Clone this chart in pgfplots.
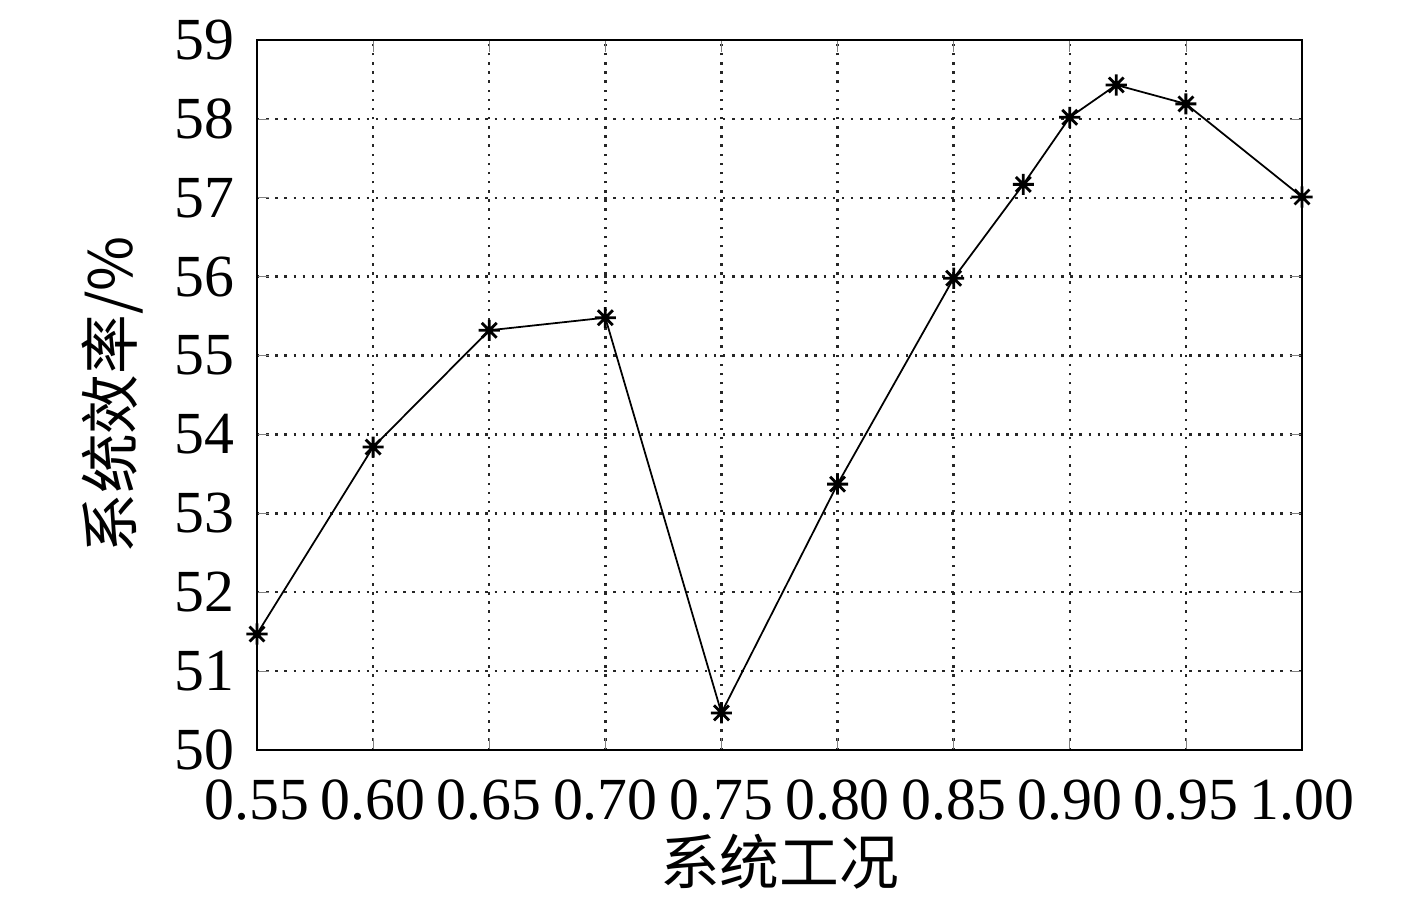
\documentclass[border=0pt]{standalone}
\usepackage{pgfplots}
\pgfplotsset{compat=1.18}
\usepackage{fontspec}
\setmainfont{Liberation Serif}
\newfontfamily\cjk{Noto Sans CJK SC}

% eight-armed asterisk, as in the source chart
\pgfdeclareplotmark{star8}{%
  \pgfpathmoveto{\pgfqpoint{-\pgfplotmarksize}{0pt}}%
  \pgfpathlineto{\pgfqpoint{\pgfplotmarksize}{0pt}}%
  \pgfpathmoveto{\pgfqpoint{0pt}{-\pgfplotmarksize}}%
  \pgfpathlineto{\pgfqpoint{0pt}{\pgfplotmarksize}}%
  \pgfpathmoveto{\pgfqpoint{-.707\pgfplotmarksize}{-.707\pgfplotmarksize}}%
  \pgfpathlineto{\pgfqpoint{.707\pgfplotmarksize}{.707\pgfplotmarksize}}%
  \pgfpathmoveto{\pgfqpoint{-.707\pgfplotmarksize}{.707\pgfplotmarksize}}%
  \pgfpathlineto{\pgfqpoint{.707\pgfplotmarksize}{-.707\pgfplotmarksize}}%
  \pgfusepathqstroke}

\begin{document}
\begin{tikzpicture}
  \begin{axis}[
    scale only axis,
    width=10.45cm,
    height=7.1cm,
    xmin=0.55,xmax=1.00,
    ymin=50,ymax=59,
    xtick={0.55,0.60,...,1.00},
    ytick={50,51,...,59},
    xticklabel style={yshift=-5pt,/pgf/number format/.cd,fixed,fixed zerofill,precision=2},
    yticklabel style={xshift=-3pt},
    /pgf/number format/assume math mode=true,
    tick label style={font=\fontsize{17}{19}\selectfont},
    label style={font=\fontsize{17}{19}\selectfont\cjk},
    xlabel={系统工况},
    ylabel={系统效率/\%},
    xlabel style={yshift=3pt},
    ylabel style={yshift=2pt},
    grid=major,
    major grid style={black!85,dash pattern=on 0.7pt off 1.9pt,line width=0.7pt},
    tick align=inside,
    major tick length=0.12cm,
    axis line style={line width=0.6pt},
    clip=false]

    % efficiency against operating point
    \addplot[black,line width=0.5pt,mark=star8,mark size=3pt,
      mark options={line width=0.8pt}] coordinates {
      (0.55,51.47) (0.60,53.84) (0.65,55.32) (0.70,55.48)
      (0.75,50.47) (0.80,53.37) (0.85,55.98) (0.88,57.17)
      (0.90,58.02) (0.92,58.43) (0.95,58.19) (1.00,57.01)};
  \end{axis}
  \path (current axis.south west) ++(-2.57cm,-1.48cm) coordinate (bl);
  \path (current axis.south west) ++(11.60cm,7.50cm) coordinate (tr);
  \path (bl) rectangle (tr);
\end{tikzpicture}
\end{document}
